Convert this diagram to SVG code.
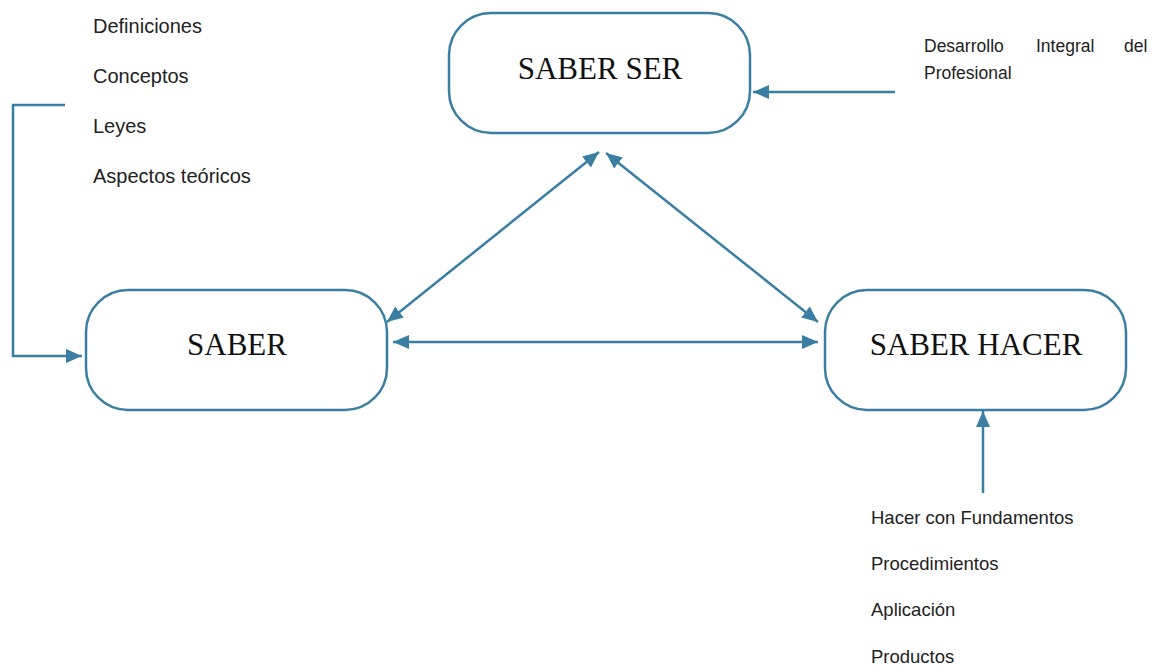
<svg xmlns="http://www.w3.org/2000/svg" width="1154" height="665" viewBox="0 0 1154 665">
  <style>
    .box { fill: #ffffff; stroke: #3a7fa2; stroke-width: 2.5; }
    .title { font-family: "Liberation Serif", "DejaVu Serif", serif; font-size: 31px; fill: #111111; text-anchor: middle; }
    .note { font-family: "Liberation Sans", Arial, sans-serif; font-size: 20px; fill: #222222; }
    .note-s { font-family: "Liberation Sans", Arial, sans-serif; font-size: 17.5px; fill: #222222; }
    .note-m { font-family: "Liberation Sans", Arial, sans-serif; font-size: 18.5px; fill: #222222; }
    .link { fill: none; stroke: #3a7fa2; stroke-width: 2.5; }
    .arrow { marker-end: url(#head); }
    .both { marker-start: url(#head); marker-end: url(#head); }
  </style>
  <defs>
    <marker id="head" markerUnits="userSpaceOnUse" markerWidth="18" markerHeight="16" viewBox="0 0 18 16" refX="16" refY="8" orient="auto-start-reverse">
      <path d="M0,1 L16,8 L0,15 z" fill="#3a7fa2"/>
    </marker>
  </defs>

  <rect width="1154" height="665" fill="#ffffff"/>

  <!-- connectors -->
  <g id="connectors">
    <path class="link arrow" d="M65,105 H13 V356 H82"/>
    <line class="link arrow" x1="895" y1="92" x2="753" y2="92"/>
    <line class="link both" x1="387" y1="322" x2="599" y2="152"/>
    <line class="link both" x1="606" y1="153" x2="818" y2="322"/>
    <line class="link both" x1="393" y1="342" x2="818" y2="342"/>
    <line class="link arrow" x1="983" y1="493" x2="983" y2="411"/>
  </g>

  <!-- nodes -->
  <g id="saber-ser">
    <rect class="box" x="449" y="13" width="301" height="120" rx="42" ry="42"/>
    <text class="title" x="600" y="79">SABER SER</text>
  </g>
  <g id="saber">
    <rect class="box" x="86" y="290" width="301" height="120" rx="42" ry="42"/>
    <text class="title" x="237" y="355">SABER</text>
  </g>
  <g id="saber-hacer">
    <rect class="box" x="825" y="290" width="301" height="120" rx="42" ry="42"/>
    <text class="title" x="976" y="355">SABER HACER</text>
  </g>

  <!-- list feeding SABER -->
  <g id="saber-list">
    <text class="note" x="93" y="33">Definiciones</text>
    <text class="note" x="93" y="83">Conceptos</text>
    <text class="note" x="93" y="133">Leyes</text>
    <text class="note" x="93" y="183">Aspectos teóricos</text>
  </g>

  <!-- note feeding SABER SER -->
  <g id="saber-ser-note">
    <text class="note-s" x="924" y="52">Desarrollo</text>
    <text class="note-s" x="1036" y="52">Integral</text>
    <text class="note-s" x="1124" y="52">del</text>
    <text class="note-s" x="924" y="79">Profesional</text>
  </g>

  <!-- list feeding SABER HACER -->
  <g id="saber-hacer-list">
    <text class="note-m" x="871" y="524">Hacer con Fundamentos</text>
    <text class="note-m" x="871" y="570">Procedimientos</text>
    <text class="note-m" x="871" y="616">Aplicación</text>
    <text class="note-m" x="871" y="663">Productos</text>
  </g>
</svg>
